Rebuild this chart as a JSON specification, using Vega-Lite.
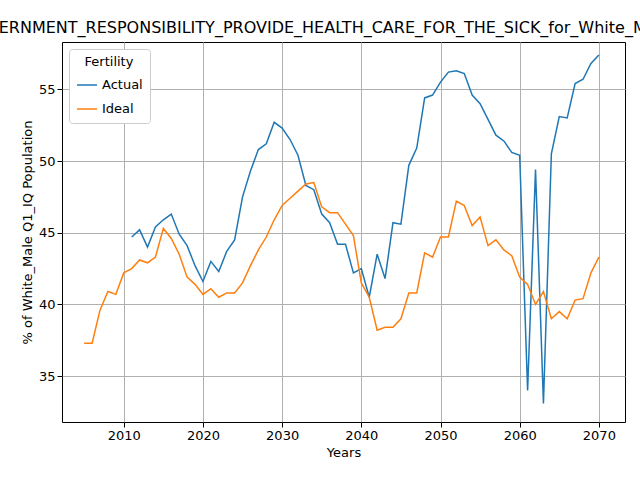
{
  "$schema": "https://vega.github.io/schema/vega-lite/v6.json",
  "autosize": "none",
  "width": 563,
  "height": 380,
  "padding": {"left": 62, "top": 42, "right": 15, "bottom": 58},
  "title": {"text": "GOVERNMENT_RESPONSIBILITY_PROVIDE_HEALTH_CARE_FOR_THE_SICK_for_White_Male Q1_IQ", "font": "DejaVu Sans", "fontSize": 16, "fontWeight": "normal", "anchor": "middle", "offset": 6},
  "config": {
    "font": "DejaVu Sans",
    "view": {"stroke": "black"},
    "axis": {"grid": true, "gridColor": "#b0b0b0", "domain": false, "tickColor": "black", "tickSize": 5, "labelFontSize": 13, "titleFontSize": 13, "titleFontWeight": "normal", "labelColor": "black", "titleColor": "black"}
  },
  "data": {"values": [
    {"year":2011,"s":"Actual","v":44.7},{"year":2012,"s":"Actual","v":45.2},{"year":2013,"s":"Actual","v":44.0},{"year":2014,"s":"Actual","v":45.4},{"year":2015,"s":"Actual","v":45.9},{"year":2016,"s":"Actual","v":46.3},{"year":2017,"s":"Actual","v":44.9},{"year":2018,"s":"Actual","v":44.1},{"year":2019,"s":"Actual","v":42.7},{"year":2020,"s":"Actual","v":41.6},
    {"year":2021,"s":"Actual","v":43.0},{"year":2022,"s":"Actual","v":42.3},{"year":2023,"s":"Actual","v":43.7},{"year":2024,"s":"Actual","v":44.5},{"year":2025,"s":"Actual","v":47.5},{"year":2026,"s":"Actual","v":49.3},{"year":2027,"s":"Actual","v":50.8},{"year":2028,"s":"Actual","v":51.2},{"year":2029,"s":"Actual","v":52.7},{"year":2030,"s":"Actual","v":52.3},
    {"year":2031,"s":"Actual","v":51.5},{"year":2032,"s":"Actual","v":50.4},{"year":2033,"s":"Actual","v":48.3},{"year":2034,"s":"Actual","v":48.0},{"year":2035,"s":"Actual","v":46.3},{"year":2036,"s":"Actual","v":45.7},{"year":2037,"s":"Actual","v":44.2},{"year":2038,"s":"Actual","v":44.2},{"year":2039,"s":"Actual","v":42.2},{"year":2040,"s":"Actual","v":42.5},
    {"year":2041,"s":"Actual","v":40.5},{"year":2042,"s":"Actual","v":43.5},{"year":2043,"s":"Actual","v":41.8},{"year":2044,"s":"Actual","v":45.7},{"year":2045,"s":"Actual","v":45.6},{"year":2046,"s":"Actual","v":49.7},{"year":2047,"s":"Actual","v":50.9},{"year":2048,"s":"Actual","v":54.4},{"year":2049,"s":"Actual","v":54.6},{"year":2050,"s":"Actual","v":55.5},
    {"year":2051,"s":"Actual","v":56.2},{"year":2052,"s":"Actual","v":56.3},{"year":2053,"s":"Actual","v":56.1},{"year":2054,"s":"Actual","v":54.6},{"year":2055,"s":"Actual","v":54.0},{"year":2056,"s":"Actual","v":52.9},{"year":2057,"s":"Actual","v":51.8},{"year":2058,"s":"Actual","v":51.4},{"year":2059,"s":"Actual","v":50.6},{"year":2060,"s":"Actual","v":50.4},
    {"year":2061,"s":"Actual","v":34.0},{"year":2062,"s":"Actual","v":49.4},{"year":2063,"s":"Actual","v":33.1},{"year":2064,"s":"Actual","v":50.5},{"year":2065,"s":"Actual","v":53.1},{"year":2066,"s":"Actual","v":53.0},{"year":2067,"s":"Actual","v":55.4},{"year":2068,"s":"Actual","v":55.7},{"year":2069,"s":"Actual","v":56.8},{"year":2070,"s":"Actual","v":57.4},
    {"year":2005,"s":"Ideal","v":37.3},{"year":2006,"s":"Ideal","v":37.3},{"year":2007,"s":"Ideal","v":39.6},{"year":2008,"s":"Ideal","v":40.9},{"year":2009,"s":"Ideal","v":40.7},{"year":2010,"s":"Ideal","v":42.2},
    {"year":2011,"s":"Ideal","v":42.5},{"year":2012,"s":"Ideal","v":43.1},{"year":2013,"s":"Ideal","v":42.9},{"year":2014,"s":"Ideal","v":43.3},{"year":2015,"s":"Ideal","v":45.3},{"year":2016,"s":"Ideal","v":44.6},{"year":2017,"s":"Ideal","v":43.5},{"year":2018,"s":"Ideal","v":41.9},{"year":2019,"s":"Ideal","v":41.4},{"year":2020,"s":"Ideal","v":40.7},
    {"year":2021,"s":"Ideal","v":41.1},{"year":2022,"s":"Ideal","v":40.5},{"year":2023,"s":"Ideal","v":40.8},{"year":2024,"s":"Ideal","v":40.8},{"year":2025,"s":"Ideal","v":41.5},{"year":2026,"s":"Ideal","v":42.7},{"year":2027,"s":"Ideal","v":43.8},{"year":2028,"s":"Ideal","v":44.7},{"year":2029,"s":"Ideal","v":45.9},{"year":2030,"s":"Ideal","v":46.9},
    {"year":2031,"s":"Ideal","v":47.4},{"year":2032,"s":"Ideal","v":47.9},{"year":2033,"s":"Ideal","v":48.4},{"year":2034,"s":"Ideal","v":48.5},{"year":2035,"s":"Ideal","v":46.8},{"year":2036,"s":"Ideal","v":46.4},{"year":2037,"s":"Ideal","v":46.4},{"year":2038,"s":"Ideal","v":45.6},{"year":2039,"s":"Ideal","v":44.8},{"year":2040,"s":"Ideal","v":41.5},
    {"year":2041,"s":"Ideal","v":40.5},{"year":2042,"s":"Ideal","v":38.2},{"year":2043,"s":"Ideal","v":38.4},{"year":2044,"s":"Ideal","v":38.4},{"year":2045,"s":"Ideal","v":39.0},{"year":2046,"s":"Ideal","v":40.8},{"year":2047,"s":"Ideal","v":40.8},{"year":2048,"s":"Ideal","v":43.6},{"year":2049,"s":"Ideal","v":43.3},{"year":2050,"s":"Ideal","v":44.7},
    {"year":2051,"s":"Ideal","v":44.7},{"year":2052,"s":"Ideal","v":47.2},{"year":2053,"s":"Ideal","v":46.9},{"year":2054,"s":"Ideal","v":45.5},{"year":2055,"s":"Ideal","v":46.1},{"year":2056,"s":"Ideal","v":44.1},{"year":2057,"s":"Ideal","v":44.5},{"year":2058,"s":"Ideal","v":43.8},{"year":2059,"s":"Ideal","v":43.4},{"year":2060,"s":"Ideal","v":41.9},
    {"year":2061,"s":"Ideal","v":41.4},{"year":2062,"s":"Ideal","v":40.0},{"year":2063,"s":"Ideal","v":40.9},{"year":2064,"s":"Ideal","v":39.0},{"year":2065,"s":"Ideal","v":39.5},{"year":2066,"s":"Ideal","v":39.0},{"year":2067,"s":"Ideal","v":40.3},{"year":2068,"s":"Ideal","v":40.4},{"year":2069,"s":"Ideal","v":42.2},{"year":2070,"s":"Ideal","v":43.3}
  ]},
  "mark": {"type": "line", "strokeWidth": 1.5},
  "encoding": {
    "x": {"field": "year", "type": "quantitative", "title": "Years", "scale": {"domain": [2002.2, 2073.3], "nice": false, "zero": false}, "axis": {"values": [2010, 2020, 2030, 2040, 2050, 2060, 2070], "format": "d"}},
    "y": {"field": "v", "type": "quantitative", "title": "% of White_Male Q1_IQ Population", "scale": {"domain": [31.8, 58.3], "nice": false, "zero": false}, "axis": {"values": [35, 40, 45, 50, 55]}},
    "color": {"field": "s", "type": "nominal", "title": "Fertility", "scale": {"domain": ["Actual", "Ideal"], "range": ["#1f77b4", "#ff7f0e"]},
      "legend": {"orient": "top-left", "symbolType": "stroke", "symbolStrokeWidth": 1.5, "symbolSize": 400, "labelFontSize": 13, "titleFontSize": 13, "titleFontWeight": "normal", "titleAnchor": "middle", "strokeColor": "#cccccc", "fillColor": "white", "padding": 7, "cornerRadius": 3, "offset": 7, "rowPadding": 6}}
  }
}
